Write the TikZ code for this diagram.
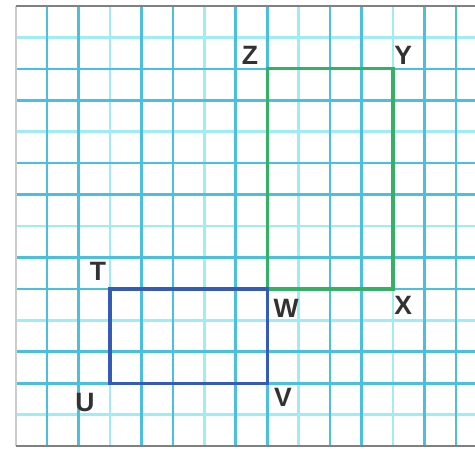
\documentclass[tikz,border=0pt]{standalone}
\usepackage{fontspec}
\setmainfont{Liberation Sans}
\usepackage{xcolor}
\usepackage{tikz}
\usetikzlibrary{positioning}

\definecolor{gridmain}{RGB}{72,192,222}
\definecolor{gridlight}{RGB}{160,236,246}
\definecolor{rectgreen}{RGB}{52,178,100}
\definecolor{rectblue}{RGB}{52,92,182}
\definecolor{labelgray}{RGB}{50,50,50}

\begin{document}
\begin{tikzpicture}[
    gridline/.style={line width=2.4pt, gridmain},
    gridfaint/.style={line width=2.4pt, gridlight},
    border/.style={line width=1.8pt, gray},
    greenrect/.style={line width=3pt, rectgreen, line join=miter},
    bluerect/.style={line width=3pt, rectblue, line join=miter},
    vertex/.style={font=\fontsize{24}{24}\selectfont\bfseries, text=labelgray, inner sep=0pt}
]
\useasboundingbox (-0.5,-0.064) rectangle (14.61,14.19);

% graph paper
\foreach \x in {3,6,9,12} \draw[gridfaint] (\x,0) -- (\x,14);
\foreach \y in {1,4,7,10,13} \draw[gridfaint] (0,\y) -- (14.61,\y);
\foreach \x in {1,2,4,5,7,8,10,11,13,14} \draw[gridline] (\x,0) -- (\x,14);
\foreach \y in {2,3,5,6,8,9,11,12} \draw[gridline] (0,\y) -- (14.61,\y);
\draw[border, gray!40] (0,0) -- (0,14);
\draw[border] (0,14) -- (14.61,14);
\draw[border] (0,0) -- (14.61,0);

% corners
\coordinate (Z) at (8,12);
\coordinate (Y) at (12,12);
\coordinate (X) at (12,5);
\coordinate (W) at (8,5);
\coordinate (T) at (3,5);
\coordinate (U) at (3,2);
\coordinate (V) at (8,2);

\draw[greenrect] (Z) -- (Y) -- (X) -- (W) -- cycle;
\draw[bluerect] (T) -- (U) -- (V) -- (W) -- cycle;

% labels
\node[vertex] (lblZ) at (7.45,12.44) {Z};
\node[vertex] (lblY) at (12.33,12.44) {Y};
\node[vertex] (lblX) at (12.33,4.49) {X};
\node[vertex] (lblW) at (8.6,4.39) {W};
\node[vertex] (lblT) at (2.62,5.57) {T};
\node[vertex] (lblU) at (2.2,1.4) {U};
\node[vertex] (lblV) at (8.5,1.56) {V};

\end{tikzpicture}
\end{document}
